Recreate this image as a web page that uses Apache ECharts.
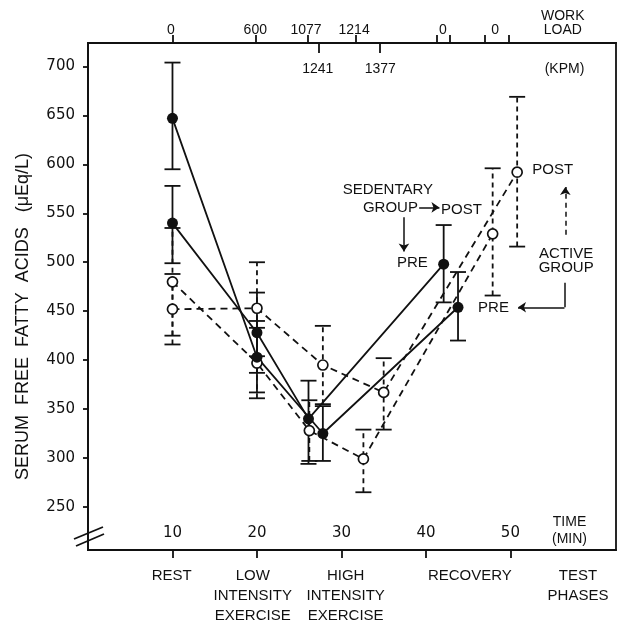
<!DOCTYPE html>
<html>
<head>
<meta charset="utf-8">
<script src="https://cdn.jsdelivr.net/npm/echarts@6/dist/echarts.min.js"></script>
<style>
html, body { margin: 0; padding: 0; background: #fff; }
#chart { width: 630px; height: 624px; }
</style>
</head>
<body>
<div id="chart"></div>
<script>
// [time (min), mean FFA, lower end of bar, upper end of bar]
const sedentaryA = [[10, 647, 595, 704], [20, 403, 367, 440], [27.8, 325, 297, 353], [43.8, 454, 420, 490]]
const sedentaryB = [[10, 540, 499, 578], [20, 428, 387, 469], [26.1, 340, 294, 379], [42.1, 498, 459, 538]]
const activeA = [[10, 452, 416, 488], [20, 453, 404, 500], [27.8, 395, 355, 435], [35.0, 367, 329, 402], [50.8, 592, 516, 669]]
const activeB = [[10, 480, 425, 535], [20, 397, 361, 433], [26.2, 328, 297, 359], [32.6, 299, 265, 329], [47.9, 529, 466, 596]]

// axes
const yTicks = [250, 300, 350, 400, 450, 500, 550, 600, 650, 700]
const timeTicks = [10, 20, 30, 40, 50]
const phaseAt = [9.9, 19.5, 30.5, 45.2, 58.0]
const phaseNames = ['REST', 'LOW\nINTENSITY\nEXERCISE', 'HIGH\nINTENSITY\nEXERCISE', 'RECOVERY', 'TEST\nPHASES']
const loadTicksUp = [10, 19.8, 26.0, 31.7, 41.3, 42.8, 47.0, 49.8]
const loadLabelsUp = [9.8, 19.8, 25.8, 31.5, 42.0, 48.2, 56.2]
const loadNamesUp = ['0', '600', '1077', '1214', '0', '0', 'WORK\nLOAD']
const loadTicksDown = [27.3, 34.5]
const loadLabelsDown = [27.2, 34.6, 56.4]
const loadNamesDown = ['1241', '1377', '(KPM)']

// annotations
const noteText = ['SEDENTARY', 'GROUP', 'POST', 'PRE', 'POST', 'ACTIVE', 'GROUP', 'PRE']
const notePos = [[35.5, 574], [35.8, 556], [44.2, 554], [38.4, 499], [55.0, 594], [56.6, 509], [56.6, 494], [48.0, 453]]
const arrowSolid = [[[39.2, 556], [41.6, 556]], [[37.4, 546], [37.4, 511]], [[56.4, 454], [50.9, 454]]]
const plainSegs = [[[56.4, 479], [56.4, 454]]]
const arrowDashed = [[[56.5, 528], [56.5, 577]]]

const FONT = "'Liberation Sans', sans-serif"
const NUMFONT = "'DejaVu Sans', sans-serif"
const INK = '#111'

const chart = echarts.init(document.getElementById('chart'))

function pick(values, names) {
  return v => {
    const i = values.findIndex(x => Math.abs(x - v) < 1e-6)
    return i >= 0 ? names[i] : ''
  }
}

function barSeries(rows, dashed) {
  return {
    type: 'custom',
    z: 2,
    data: rows.map(r => [r[0], r[2], r[3]]),
    encode: { x: 0, y: [1, 2] },
    renderItem: (params, api) => {
      const lo = api.coord([api.value(0), api.value(1)])
      const hi = api.coord([api.value(0), api.value(2)])
      const w = 8
      const st = { stroke: INK, lineWidth: 1.8, lineDash: dashed ? [5, 4] : null }
      const cap = { stroke: INK, lineWidth: 1.8 }
      return {
        type: 'group',
        children: [
          { type: 'line', shape: { x1: lo[0], y1: lo[1], x2: hi[0], y2: hi[1] }, style: st },
          { type: 'line', shape: { x1: lo[0] - w, y1: lo[1], x2: lo[0] + w, y2: lo[1] }, style: cap },
          { type: 'line', shape: { x1: hi[0] - w, y1: hi[1], x2: hi[0] + w, y2: hi[1] }, style: cap }
        ]
      }
    }
  }
}

function meanSeries(rows, dashed) {
  return {
    type: 'line',
    z: 3,
    data: rows.map(r => [r[0], r[1]]),
    symbol: 'circle',
    symbolSize: dashed ? 10 : 11,
    itemStyle: dashed ? { color: '#fff', borderColor: INK, borderWidth: 1.7 } : { color: INK },
    lineStyle: { color: INK, width: 1.8, type: dashed ? [7, 5] : 'solid' }
  }
}

function arrowSeries(segs, dash, head) {
  return {
    type: 'lines', coordinateSystem: 'cartesian2d', z: 4, silent: true,
    symbol: ['none', head ? 'arrow' : 'none'], symbolSize: 8,
    lineStyle: { color: INK, width: 1.5, opacity: 1, type: dash ? [5, 4] : 'solid' },
    data: segs.map(c => ({ coords: c }))
  }
}

const option = {
  backgroundColor: '#fff',
  animation: false,
  textStyle: { fontFamily: FONT, color: INK },
  grid: { left: 88, right: 14, top: 43, bottom: 74, outerBoundsMode: 'none', show: true, borderColor: INK, borderWidth: 1.8 },
  xAxis: [
    {
      type: 'value', position: 'bottom', min: 0, max: 62.5,
      axisLine: { show: true, lineStyle: { color: INK, width: 1.8 } },
      axisTick: { show: true, inside: false, length: 8, customValues: timeTicks, lineStyle: { color: INK, width: 1.8 } },
      axisLabel: { inside: true, margin: 9, customValues: timeTicks, fontSize: 15, color: INK, fontFamily: NUMFONT },
      splitLine: { show: false }
    },
    {
      type: 'value', position: 'bottom', min: 0, max: 62.5,
      axisLine: { show: false }, axisTick: { show: false }, splitLine: { show: false },
      axisLabel: { inside: true, margin: 2, customValues: [57.0], formatter: () => 'TIME\n(MIN)', fontSize: 14, lineHeight: 17, color: INK, fontFamily: FONT }
    },
    {
      type: 'value', position: 'bottom', min: 0, max: 62.5,
      axisLine: { show: false }, axisTick: { show: false }, splitLine: { show: false },
      axisLabel: { margin: 16, customValues: phaseAt, formatter: pick(phaseAt, phaseNames), fontSize: 15, lineHeight: 20, color: INK, fontFamily: FONT }
    },
    {
      type: 'value', position: 'top', min: 0, max: 62.5,
      axisLine: { show: true, lineStyle: { color: INK, width: 1.8 } },
      axisTick: { show: true, inside: false, length: 8, customValues: loadTicksUp, lineStyle: { color: INK, width: 1.8 } },
      axisLabel: { margin: 6, customValues: loadLabelsUp, formatter: pick(loadLabelsUp, loadNamesUp), fontSize: 14, lineHeight: 14, color: INK, fontFamily: FONT },
      splitLine: { show: false }
    },
    {
      type: 'value', position: 'top', min: 0, max: 62.5,
      axisLine: { show: false }, splitLine: { show: false },
      axisTick: { show: true, inside: true, length: 10, customValues: loadTicksDown, lineStyle: { color: INK, width: 1.8 } },
      axisLabel: { inside: true, margin: 19, customValues: loadLabelsDown, formatter: pick(loadLabelsDown, loadNamesDown), fontSize: 14, color: INK, fontFamily: FONT }
    }
  ],
  yAxis: {
    type: 'value', min: 206, max: 724,
    name: 'SERUM  FREE  FATTY  ACIDS   (\u03bcEq/L)',
    nameLocation: 'middle', nameGap: 56, nameRotate: 90,
    nameTextStyle: { fontSize: 18, color: INK, fontFamily: FONT, padding: [0, 40, 0, 0] },
    axisLine: { show: true, lineStyle: { color: INK, width: 1.8 } },
    axisTick: { show: true, inside: false, length: 5, customValues: yTicks, lineStyle: { color: INK, width: 1.8 } },
    axisLabel: { margin: 13, customValues: yTicks, fontSize: 15, color: INK, fontFamily: NUMFONT },
    splitLine: { show: false }
  },
  graphic: [
    { type: 'line', shape: { x1: 74, y1: 539, x2: 103, y2: 527 }, style: { stroke: INK, lineWidth: 1.8 } },
    { type: 'line', shape: { x1: 76, y1: 546, x2: 104, y2: 534 }, style: { stroke: INK, lineWidth: 1.8 } }
  ],
  series: [
    barSeries(sedentaryA, false),
    barSeries(sedentaryB, false),
    barSeries(activeA, true),
    barSeries(activeB, true),
    meanSeries(activeA, true),
    meanSeries(activeB, true),
    meanSeries(sedentaryA, false),
    meanSeries(sedentaryB, false),
    {
      type: 'scatter', z: 4, symbolSize: 0, silent: true,
      itemStyle: { opacity: 1 },
      data: notePos.map((p, i) => ({ value: p, label: { formatter: noteText[i] } })),
      label: { show: true, position: 'inside', fontSize: 15, color: INK, opacity: 1, fontFamily: FONT }
    },
    arrowSeries(arrowSolid, false, true),
    arrowSeries(plainSegs, false, false),
    arrowSeries(arrowDashed, true, true)
  ]
}

chart.setOption(option)
</script>
</body>
</html>
